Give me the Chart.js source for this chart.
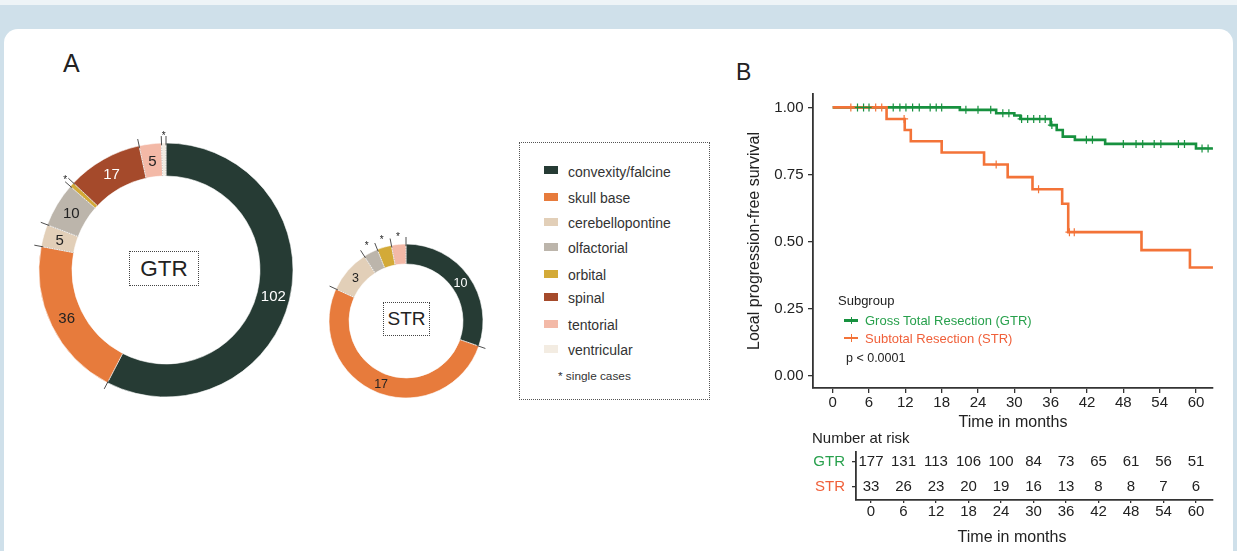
<!DOCTYPE html>
<html>
<head>
<meta charset="utf-8">
<script src="https://cdn.jsdelivr.net/npm/chart.js@4.4.1/dist/chart.umd.min.js"></script>
<style>
  html, body { margin: 0; padding: 0; }
  body { width: 1237px; height: 551px; position: relative; overflow: hidden; background: #eef4f7;
         font-family: "Liberation Sans", Arial, Helvetica, sans-serif; color: #222; }
  #frame { position: absolute; left: 0; top: 5px; width: 1237px; height: 546px; background: #cfe0ea; }
  #panel { position: absolute; left: 4px; top: 29px; width: 1229px; height: 522px; background: #fff;
           border-radius: 14px 14px 0 0; }
  canvas { position: absolute; }
  .t { position: absolute; line-height: 1; white-space: nowrap; transform: translateY(-50%); }
  .tc { position: absolute; line-height: 1; white-space: nowrap; transform: translate(-50%, -50%); }
  .box { position: absolute; border: 1px dotted #444; box-sizing: border-box; display: flex;
         align-items: center; justify-content: center; background: #fff; }
  .sw { position: absolute; width: 14px; height: 8px; }
  .key { position: absolute; width: 14px; height: 2.6px; }
  .key::after { content: ""; position: absolute; left: 6.5px; top: -2.5px; width: 1px; height: 7.6px; background: inherit; }
</style>
</head>
<body>
<div id="frame"></div>
<div id="panel"></div>

<div class="t" style="left:63px;top:62.5px;font-size:25px;">A</div>
<div class="t" style="left:736px;top:71.7px;font-size:23px;">B</div>

<canvas id="gtrRing" width="300" height="300" style="left:16px;top:120px;"></canvas>
<canvas id="strRing" width="200" height="200" style="left:306px;top:221px;"></canvas>

<div class="box" style="left:129px;top:251px;width:70px;height:35px;font-size:22.5px;">GTR</div>
<div class="box" style="left:383px;top:302px;width:47px;height:34px;font-size:19px;">STR</div>

<div id="legend" style="position:absolute;left:519px;top:142px;width:191px;height:258px;border:1px dotted #555;box-sizing:border-box;"></div>

<canvas id="km" width="502" height="355" style="left:735px;top:85px;"></canvas>

<div class="t" style="left:838px;top:300px;font-size:13px;">Subgroup</div>
<div class="key" style="left:844px;top:319px;background:#17913f;"></div>
<div class="t" style="left:865px;top:320px;font-size:13px;color:#27a04c;">Gross Total Resection (GTR)</div>
<div class="key" style="left:844px;top:336.5px;background:#f37338;"></div>
<div class="t" style="left:865px;top:337.7px;font-size:13px;color:#f0603a;">Subtotal Resection (STR)</div>
<div class="t" style="left:846px;top:358px;font-size:12.5px;">p &lt; 0.0001</div>

<div class="t" style="left:812px;top:437px;font-size:15px;">Number at risk</div>
<canvas id="risk" width="447" height="111" style="left:790px;top:440px;"></canvas>
<div class="tc" style="left:1012px;top:536.5px;font-size:16px;">Time in months</div>

<script>
// ---- Tumour location by extent of resection ----
const locations = ['convexity/falcine', 'skull base', 'cerebellopontine', 'olfactorial',
                   'orbital', 'spinal', 'tentorial', 'ventricular'];
const locationColors = ['#263b34', '#e77b3c', '#e2cfb8', '#bcb5ab', '#d3aa38', '#a54a2b', '#f3b9a7', '#f3ece2'];
const locationTextColors = ['#ffffff', '#222222', '#222222', '#222222', '#222222', '#ffffff', '#222222', '#222222'];
const gtrCounts = [102, 36, 5, 10, 1, 17, 5, 1];
const strCounts = [10, 17, 3, 1, 1, 0, 1, 0];

// ---- Local progression-free survival (Kaplan-Meier steps) ----
const gtrTime = [0, 21.0, 27.0, 30.0, 31.0, 36.0, 37.0, 38.0, 40.0, 45.0, 60.0, 62.8];
const gtrSurv = [1.0, 0.991, 0.978, 0.970, 0.957, 0.934, 0.916, 0.891, 0.879, 0.864, 0.847, 0.847];
const gtrCensor = [4.1, 5.1, 6.0, 10.0, 11.1, 12.1, 13.2, 14.3, 16.1, 17.1, 18.0, 22.0, 24.0, 26.1,
                   28.1, 29.1, 31.2, 32.2, 33.2, 34.2, 35.1, 36.2, 41.9, 42.9, 48.0, 50.1, 51.2,
                   53.1, 54.2, 57.1, 58.1, 61.0, 62.0];
const strTime = [0, 8.9, 11.9, 12.9, 18.0, 25.0, 28.9, 33.0, 37.9, 38.9, 51.0, 59.0, 62.8];
const strSurv = [1.0, 0.957, 0.916, 0.874, 0.832, 0.787, 0.740, 0.695, 0.641, 0.535, 0.468, 0.403, 0.403];
const strCensor = [3.0, 7.1, 8.1, 11.8, 27.0, 34.0, 39.1, 39.9];

// ---- Number at risk ----
const monthTicks = [0, 6, 12, 18, 24, 30, 36, 42, 48, 54, 60];
const survTicks = [0, 0.25, 0.5, 0.75, 1.0];
const gtrAtRisk = [177, 131, 113, 106, 100, 84, 73, 65, 61, 56, 51];
const strAtRisk = [33, 26, 23, 20, 19, 16, 13, 8, 8, 7, 6];

const GREEN = '#17913f', ORANGE = '#f37338';
const GREEN_TXT = '#27a04c', ORANGE_TXT = '#f0603a';
const AXIS = '#333333';

Chart.defaults.font.family = '"Liberation Sans", Arial, Helvetica, sans-serif';
Chart.defaults.color = '#222222';

// legend of locations
(function buildLegend() {
  const host = document.body;
  const ys = [171.7, 198.3, 223.3, 248.3, 275, 298.3, 325, 350];
  locations.forEach((name, i) => {
    const sw = document.createElement('div');
    sw.className = 'sw';
    sw.style.left = '544px';
    sw.style.top = (ys[i] - 5.5) + 'px';
    sw.style.background = locationColors[i];
    host.appendChild(sw);
    const tx = document.createElement('div');
    tx.className = 't';
    tx.style.left = '568px';
    tx.style.top = ys[i] + 'px';
    tx.style.fontSize = '14px';
    tx.style.color = '#333';
    tx.textContent = name;
    host.appendChild(tx);
  });
  const note = document.createElement('div');
  note.className = 't';
  note.style.left = '558px';
  note.style.top = '377.3px';
  note.style.fontSize = '11.8px';
  note.style.color = '#333';
  note.textContent = '* single cases';
  host.appendChild(note);
})();

// counts, boundary ticks and single-case asterisks on the rings
const ringMarks = {
  id: 'ringMarks',
  afterDatasetsDraw(chart, args, opts) {
    const ctx = chart.ctx;
    const meta = chart.getDatasetMeta(0);
    const counts = chart.data.datasets[0].data;
    ctx.save();
    meta.data.forEach((arc, i) => {
      if (!counts[i]) return;
      const p = arc.getProps(['x', 'y', 'startAngle', 'endAngle', 'innerRadius', 'outerRadius'], true);
      const a = p.startAngle;
      const c = Math.cos(a), s = Math.sin(a);
      // dotted separator across the ring
      ctx.strokeStyle = 'rgba(40,40,40,0.45)';
      ctx.lineWidth = 0.6;
      ctx.setLineDash([1, 1.5]);
      ctx.beginPath();
      ctx.moveTo(p.x + c * p.innerRadius, p.y + s * p.innerRadius);
      ctx.lineTo(p.x + c * p.outerRadius, p.y + s * p.outerRadius);
      ctx.stroke();
      // short tick outside the ring
      ctx.setLineDash([]);
      ctx.strokeStyle = '#222';
      ctx.lineWidth = 0.8;
      ctx.beginPath();
      ctx.moveTo(p.x + c * (p.outerRadius - 2), p.y + s * (p.outerRadius - 2));
      ctx.lineTo(p.x + c * (p.outerRadius + 7), p.y + s * (p.outerRadius + 7));
      ctx.stroke();

      const mid = (p.startAngle + p.endAngle) / 2;
      if (counts[i] === 1) {
        const r = p.outerRadius + 9;
        ctx.fillStyle = '#222';
        ctx.font = '10px ' + Chart.defaults.font.family;
        ctx.textAlign = 'center';
        ctx.textBaseline = 'middle';
        ctx.fillText('*', p.x + Math.cos(mid) * r, p.y + Math.sin(mid) * r + 2);
      } else {
        const r = (p.innerRadius + p.outerRadius) / 2;
        ctx.fillStyle = locationTextColors[i];
        ctx.font = opts.fontSize + 'px ' + Chart.defaults.font.family;
        ctx.textAlign = 'center';
        ctx.textBaseline = 'middle';
        ctx.fillText(String(counts[i]), p.x + Math.cos(mid) * r, p.y + Math.sin(mid) * r + 1);
      }
    });
    ctx.restore();
  }
};

function ring(id, counts, radius, fontSize) {
  return new Chart(document.getElementById(id), {
    type: 'doughnut',
    data: {
      labels: locations,
      datasets: [{
        data: counts,
        backgroundColor: locationColors,
        borderColor: '#ffffff',
        borderWidth: 0.6,
        hoverOffset: 0
      }]
    },
    options: {
      responsive: false,
      animation: false,
      events: [],
      radius: radius,
      cutout: '74%',
      layout: { padding: 0 },
      plugins: {
        legend: { display: false },
        tooltip: { enabled: false },
        ringMarks: { fontSize: fontSize }
      }
    },
    plugins: [ringMarks]
  });
}

ring('gtrRing', gtrCounts, 127, 15);
ring('strRing', strCounts, 77, 12.5);

// step curve value at a given time
function survAt(times, surv, t) {
  let v = surv[0];
  for (let i = 0; i < times.length; i++) {
    if (times[i] <= t) v = surv[i];
  }
  return v;
}

const pts = (xs, ys) => xs.map((x, i) => ({ x: x, y: ys[i] }));
const censorPts = (cs, times, surv) => cs.map(t => ({ x: t, y: survAt(times, surv, t) }));

// fixed axis box sizes so the plot area sits exactly where intended
function fixBox(prop, size) {
  return s => {
    s[prop] = size;
    s.paddingTop = 0; s.paddingBottom = 0; s.paddingLeft = 0; s.paddingRight = 0;
  };
}

new Chart(document.getElementById('km'), {
  type: 'scatter',
  data: {
    datasets: [
      { data: censorPts(strCensor, strTime, strSurv), showLine: false, pointStyle: 'cross',
        pointRadius: 4, borderColor: ORANGE, backgroundColor: ORANGE, borderWidth: 1.2 },
      { data: censorPts(gtrCensor, gtrTime, gtrSurv), showLine: false, pointStyle: 'cross',
        pointRadius: 4, borderColor: GREEN, backgroundColor: GREEN, borderWidth: 1.2 },
      { data: pts(strTime, strSurv), showLine: true, stepped: true, borderColor: ORANGE,
        borderWidth: 2.6, pointRadius: 0, fill: false },
      { data: pts(gtrTime, gtrSurv), showLine: true, stepped: true, borderColor: GREEN,
        borderWidth: 2.6, pointRadius: 0, fill: false }
    ]
  },
  options: {
    responsive: false,
    animation: false,
    events: [],
    layout: { padding: { top: 9, right: 24, left: 0, bottom: 0 } },
    plugins: { legend: { display: false }, tooltip: { enabled: false } },
    scales: {
      x: {
        type: 'linear', min: -3.25, max: 62.81,
        afterBuildTicks: s => { s.ticks = monthTicks.map(v => ({ value: v })); },
        afterFit: fixBox('height', 52),
        grid: { display: true, drawOnChartArea: false, drawTicks: true, tickLength: 5, color: AXIS, lineWidth: 1.3 },
        border: { display: true, color: AXIS, width: 1.8 },
        ticks: { font: { size: 15 }, color: '#222', padding: 0.5, maxRotation: 0 },
        title: { display: true, text: 'Time in months', font: { size: 16 }, color: '#222',
                 padding: { top: 0, bottom: 7.4 } }
      },
      y: {
        type: 'linear', min: -0.046, max: 1.05,
        afterBuildTicks: s => { s.ticks = survTicks.map(v => ({ value: v })); },
        afterFit: fixBox('width', 78),
        grid: { display: true, drawOnChartArea: false, drawTicks: true, tickLength: 5, color: AXIS, lineWidth: 1.3 },
        border: { display: true, color: AXIS, width: 1.8 },
        ticks: { font: { size: 15 }, color: '#222', padding: 4.5, callback: v => v.toFixed(2) },
        title: { display: true, text: 'Local progression-free survival', font: { size: 16 }, color: '#222',
                 padding: { top: 10.4, bottom: 0 } }
      }
    }
  }
});

// numbers at risk written at each month tick
const riskNumbers = {
  id: 'riskNumbers',
  afterDraw(chart) {
    const ctx = chart.ctx;
    const xs = chart.scales.x, ys = chart.scales.y;
    ctx.save();
    ctx.font = '15px ' + Chart.defaults.font.family;
    ctx.fillStyle = '#222';
    ctx.textAlign = 'center';
    ctx.textBaseline = 'middle';
    monthTicks.forEach((m, i) => {
      ctx.fillText(String(gtrAtRisk[i]), xs.getPixelForValue(m), ys.getPixelForValue(1));
      ctx.fillText(String(strAtRisk[i]), xs.getPixelForValue(m), ys.getPixelForValue(0));
    });
    ctx.restore();
  }
};

new Chart(document.getElementById('risk'), {
  type: 'scatter',
  data: { datasets: [{ data: [] }] },
  options: {
    responsive: false,
    animation: false,
    events: [],
    layout: { padding: { top: 12, right: 24, left: 0, bottom: 0 } },
    plugins: { legend: { display: false }, tooltip: { enabled: false } },
    scales: {
      x: {
        type: 'linear', min: -2.77, max: 63.14,
        afterBuildTicks: s => { s.ticks = monthTicks.map(v => ({ value: v })); },
        afterFit: fixBox('height', 51),
        grid: { display: true, drawOnChartArea: false, drawTicks: true, tickLength: 3, color: AXIS, lineWidth: 1.3 },
        border: { display: true, color: AXIS, width: 1.8 },
        ticks: { font: { size: 15 }, color: '#222', padding: 0, maxRotation: 0 }
      },
      y: {
        type: 'linear', min: -0.538, max: 1.405,
        afterBuildTicks: s => { s.ticks = [{ value: 0 }, { value: 1 }]; },
        afterFit: fixBox('width', 66),
        grid: { display: true, drawOnChartArea: false, drawTicks: true, tickLength: 4, color: AXIS, lineWidth: 1.3 },
        border: { display: true, color: AXIS, width: 1.8 },
        ticks: {
          font: { size: 15 }, padding: 7,
          color: c => (c.tick && c.tick.value === 1 ? GREEN_TXT : ORANGE_TXT),
          callback: v => (v === 1 ? 'GTR' : 'STR')
        }
      }
    }
  },
  plugins: [riskNumbers]
});
</script>
</body>
</html>
